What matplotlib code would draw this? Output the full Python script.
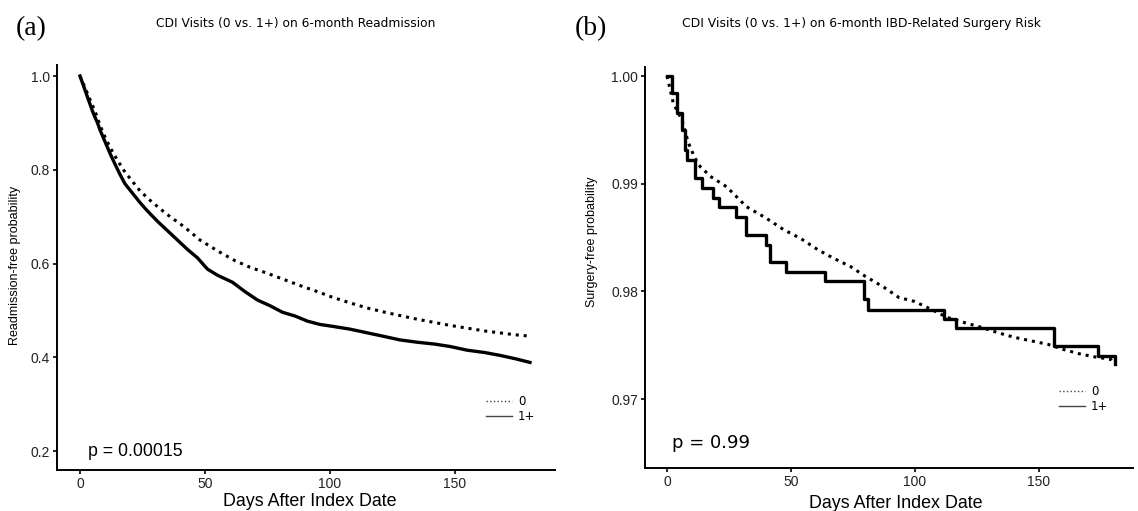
import numpy as np
import matplotlib.pyplot as plt
from matplotlib.lines import Line2D

# (a) readmission-free probability
days_a1 = [0, 1, 2, 3, 4, 5, 6, 7, 8, 10, 12, 14, 16, 18, 21, 24, 27, 31, 35, 39, 43, 47, 51, 55,
           61, 66, 71, 76, 81, 86, 91, 96, 101, 108, 115, 122, 128, 135, 142, 148, 155, 162, 168, 174, 180]
surv_a1 = [1.0, 0.985, 0.97, 0.955, 0.94, 0.925, 0.912, 0.90, 0.885, 0.86, 0.835, 0.812, 0.79, 0.77,
           0.75, 0.73, 0.712, 0.69, 0.67, 0.65, 0.63, 0.612, 0.588, 0.575, 0.56, 0.54, 0.522, 0.51,
           0.496, 0.488, 0.477, 0.47, 0.466, 0.46, 0.452, 0.444, 0.437, 0.432, 0.428, 0.423, 0.415,
           0.41, 0.404, 0.397, 0.389]
days_a0 = [0, 2, 4, 6, 8, 10, 12, 15, 18, 21, 24, 28, 32, 36, 40, 44, 48, 55, 62, 68, 75, 82, 89,
           95, 101, 108, 115, 122, 128, 135, 142, 148, 155, 162, 168, 174, 180]
surv_a0 = [1.0, 0.975, 0.95, 0.925, 0.895, 0.87, 0.848, 0.82, 0.795, 0.775, 0.755, 0.735, 0.717,
           0.7, 0.685, 0.668, 0.65, 0.627, 0.606, 0.592, 0.579, 0.565, 0.551, 0.54, 0.528, 0.516,
           0.505, 0.496, 0.489, 0.481, 0.474, 0.468, 0.462, 0.456, 0.452, 0.448, 0.445]

# (b) surgery-free probability
days_b1 = [0, 2, 4, 6, 7.3, 8, 11.3, 14, 18.6, 21, 28, 32, 40, 41.7, 48, 63.6, 79.5, 81, 111.7,
           116.6, 156, 174, 180.6]
surv_b1 = [1.0, 0.99843, 0.99657, 0.9950, 0.99315, 0.99222, 0.99056, 0.98963, 0.9887, 0.98787,
           0.98694, 0.98528, 0.98435, 0.98269, 0.98176, 0.98093, 0.9793, 0.9783, 0.97741, 0.97657,
           0.97491, 0.97398, 0.97324]
days_b0 = [0, 1, 2.5, 4, 6, 8.6, 11, 13.4, 18, 24, 28, 32, 40, 47, 54, 60.7, 67, 74, 80, 87.6,
           93.5, 99.8, 106, 113, 120, 126.7, 133, 140, 147, 153.6, 160, 167, 173, 179, 180]
surv_b0 = [1.0, 0.9990, 0.9975, 0.9968, 0.99593, 0.9938, 0.9925, 0.99157, 0.9906, 0.98972, 0.9888,
           0.98787, 0.9868, 0.98574, 0.9849, 0.98389, 0.9831, 0.98231, 0.9814, 0.98037, 0.97944,
           0.97907, 0.9784, 0.97759, 0.9771, 0.97667, 0.9762, 0.97574, 0.9754, 0.97509, 0.9746,
           0.97417, 0.9739, 0.9737, 0.97324]

W, H = 1138, 511
fig = plt.figure(figsize=(W / 100, H / 100), dpi=100)


def box(l, t, r, b):
    return [l / W, 1 - b / H, (r - l) / W, (b - t) / H]


dots = (0, (1, 1.6))


def style(ax):
    for s in ["top", "right"]:
        ax.spines[s].set_visible(False)
    for s in ["left", "bottom"]:
        ax.spines[s].set_linewidth(1.4)
    ax.tick_params(direction="out", length=3, width=1.2, labelsize=10, pad=2, labelcolor="#222222")
    for lab in ax.get_xticklabels() + ax.get_yticklabels():
        lab.set_family("Liberation Sans")


def legend(ax, x, y):
    h = [Line2D([], [], color="#444444", lw=1, ls=":"),
         Line2D([], [], color="#444444", lw=1, ls="-")]
    ax.legend(h, ["0", "1+"], loc="upper left", bbox_to_anchor=(x / W, 1 - y / H),
              bbox_transform=fig.transFigure, frameon=False, fontsize=8.5,
              handlelength=2.2, handletextpad=0.5, labelspacing=0.15, borderpad=0)


# panel a
ax1 = fig.add_axes(box(57, 65, 555, 470))
ax1.plot(days_a0, surv_a0, color="black", lw=2.2, ls=dots)
ax1.plot(days_a1, surv_a1, color="black", lw=2.4)
ax1.set_xlim(-9.2, 190)
ax1.set_ylim(0.1595, 1.0235)
ax1.set_xticks([0, 50, 100, 150])
ax1.set_yticks([0.2, 0.4, 0.6, 0.8, 1.0])
ax1.set_yticklabels(["0.2", "0.4", "0.6", "0.8", "1.0"])
style(ax1)
ax1.text(3.2, 0.2, "p = 0.00015", fontsize=12.8, family="Liberation Sans", va="center")
legend(ax1, 480, 389)

# panel b
ax2 = fig.add_axes(box(645, 67, 1133, 468))
ax2.plot(days_b0, surv_b0, color="black", lw=2.2, ls=dots)
ax2.plot(days_b1, surv_b1, color="black", lw=2.4, drawstyle="steps-post")
ax2.set_xlim(-8.9, 188)
ax2.set_ylim(0.9636, 1.00084)
ax2.set_xticks([0, 50, 100, 150])
ax2.set_yticks([0.97, 0.98, 0.99, 1.00])
ax2.set_yticklabels(["0.97", "0.98", "0.99", "1.00"])
style(ax2)
ax2.text(2, 0.9659, "p = 0.99", fontsize=13, family="DejaVu Sans", va="center")
legend(ax2, 1053, 379)

# titles and labels
fig.text(296 / W, 1 - 23 / H, "CDI Visits (0 vs. 1+) on 6-month Readmission",
         fontsize=8.8, ha="center", va="center")
fig.text(861 / W, 1 - 23 / H, "CDI Visits (0 vs. 1+) on 6-month IBD-Related Surgery Risk",
         fontsize=8.9, ha="center", va="center")
fig.text(16 / W, 1 - 29 / H, "(a)", fontsize=20, family="Liberation Serif", va="center")
fig.text(575 / W, 1 - 29 / H, "(b)", fontsize=20, family="Liberation Serif", va="center")
fig.text(310 / W, 1 - 502 / H, "Days After Index Date", fontsize=12.9,
         family="Liberation Sans", ha="center", va="center")
fig.text(896 / W, 1 - 503 / H, "Days After Index Date", fontsize=12.9,
         family="Liberation Sans", ha="center", va="center")
fig.text(15 / W, 1 - 265 / H, "Readmission-free probability", fontsize=9,
         family="Liberation Sans", rotation=90, ha="center", va="center")
fig.text(592 / W, 1 - 242 / H, "Surgery-free probability", fontsize=9,
         family="Liberation Sans", rotation=90, ha="center", va="center")

plt.savefig("out.png", dpi=100)
